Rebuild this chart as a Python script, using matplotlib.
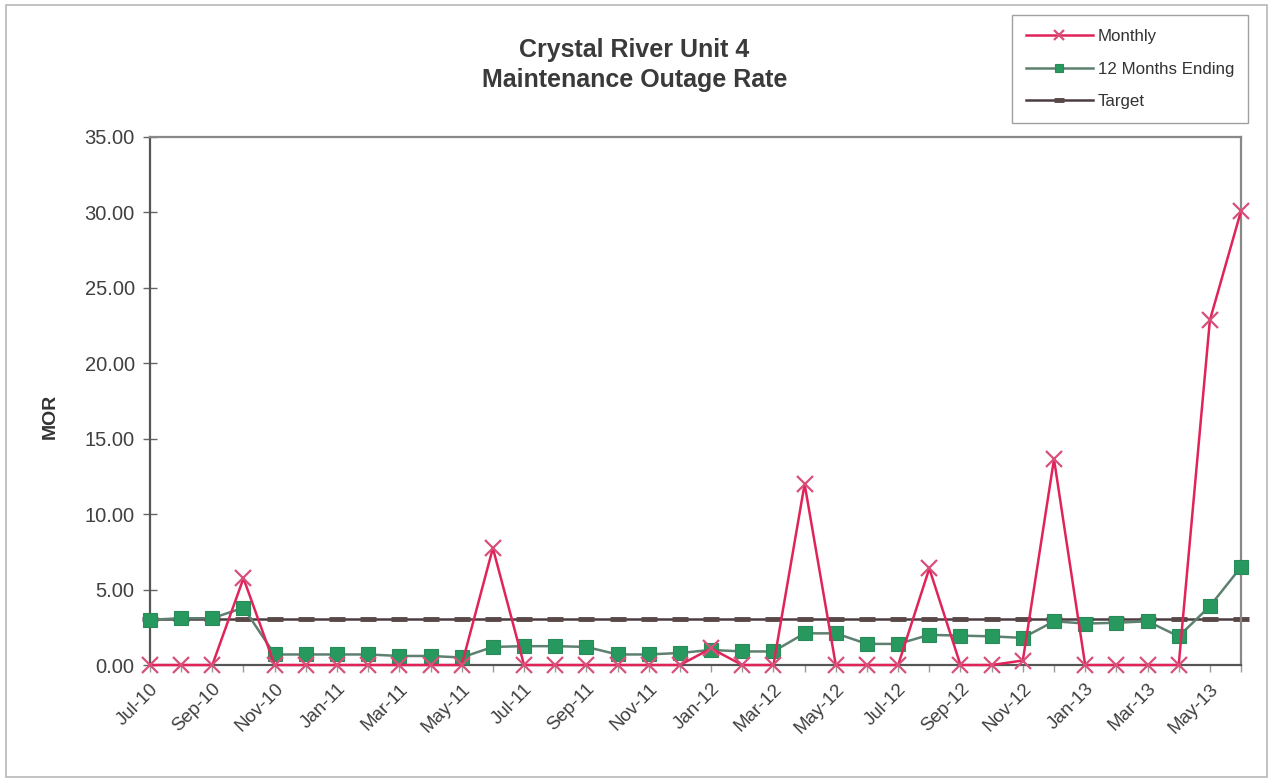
import matplotlib
matplotlib.use("Agg")
import matplotlib.pyplot as plt
from matplotlib.patches import Rectangle

plt.rcParams['font.family'] = ['Liberation Sans', 'DejaVu Sans']

months = ["Jul-10", "Aug-10", "Sep-10", "Oct-10", "Nov-10", "Dec-10",
          "Jan-11", "Feb-11", "Mar-11", "Apr-11", "May-11", "Jun-11",
          "Jul-11", "Aug-11", "Sep-11", "Oct-11", "Nov-11", "Dec-11",
          "Jan-12", "Feb-12", "Mar-12", "Apr-12", "May-12", "Jun-12",
          "Jul-12", "Aug-12", "Sep-12", "Oct-12", "Nov-12", "Dec-12",
          "Jan-13", "Feb-13", "Mar-13", "Apr-13", "May-13", "Jun-13"]

monthly = [0.0, 0.0, 0.0, 5.75, 0.0, 0.0,
           0.0, 0.0, 0.0, 0.0, 0.0, 7.75,
           0.0, 0.0, 0.0, 0.0, 0.0, 0.0,
           1.1, 0.0, 0.0, 12.0, 0.0, 0.0,
           0.0, 6.4, 0.0, 0.0, 0.3, 13.65,
           0.0, 0.0, 0.0, 0.0, 22.85, 30.1]

twelve_month = [3.0, 3.1, 3.1, 3.8, 0.7, 0.7,
                0.7, 0.7, 0.6, 0.6, 0.5, 1.2,
                1.25, 1.25, 1.2, 0.7, 0.7, 0.8,
                1.0, 0.9, 0.9, 2.1, 2.1, 1.4,
                1.4, 2.0, 1.95, 1.9, 1.8, 2.9,
                2.75, 2.8, 2.9, 1.9, 3.9, 6.5]

target = [3.08] * len(months)

x = list(range(len(months)))

fig = plt.figure(figsize=(12.73, 7.80), dpi=100)
fig.patches.append(Rectangle((0.005, 0.004), 0.99, 0.99, transform=fig.transFigure,
                             fill=False, edgecolor='#b8b8b8', linewidth=1.2))

ax = fig.add_axes([0.1178, 0.1474, 0.8571, 0.6770])

ax.plot(x, target, color='#4a3c40', linewidth=1.8, marker='_', markersize=12,
        markeredgewidth=3.5, markeredgecolor='#5a4848', label='Target', zorder=2,
        clip_on=False)
ax.plot(x, twelve_month, color='#5e8070', linewidth=1.8, marker='s', markersize=10,
        markerfacecolor='#27995f', markeredgecolor='#2b8a5a', markeredgewidth=0.8,
        label='12 Months Ending', zorder=3, clip_on=False)
ax.plot(x, monthly, color='#e0245a', linewidth=1.8, marker='x', markersize=11,
        markeredgewidth=1.6, markeredgecolor='#d8507a', label='Monthly', zorder=4,
        clip_on=False)

ax.set_xlim(0, len(months) - 1)
ax.set_ylim(0, 35)
yt = [0, 5, 10, 15, 20, 25, 30, 35]
ax.set_yticks(yt)
ax.set_yticklabels([f"{v:.2f}" for v in yt], fontsize=14.5, color='#404040')
ax.set_xticks(x)
ax.set_xticklabels([m if i % 2 == 0 else '' for i, m in enumerate(months)],
                   rotation=45, ha='right', rotation_mode='anchor',
                   fontsize=13.5, color='#404040')
ax.tick_params(axis='y', direction='inout', length=10, width=1, color='#666666', pad=6)
ax.tick_params(axis='x', direction='out', length=5, width=1, color='#999999', pad=6)

for side in ['left', 'bottom']:
    ax.spines[side].set_color('#555555')
    ax.spines[side].set_linewidth(1.6)
for side in ['top', 'right']:
    ax.spines[side].set_color('#888888')
    ax.spines[side].set_linewidth(1.6)

ax.set_ylabel('MOR', fontsize=14, fontweight='bold', color='#333333')
ax.yaxis.set_label_coords(-0.084, 0.47)

fig.text(0.4985, 0.936, 'Crystal River Unit 4', ha='center', va='center',
         fontsize=18, fontweight='bold', color='#3a3a3a')
fig.text(0.4985, 0.897, 'Maintenance Outage Rate', ha='center', va='center',
         fontsize=18, fontweight='bold', color='#3a3a3a')

handles, labels = ax.get_legend_handles_labels()
order = [2, 1, 0]
leg = fig.legend([handles[i] for i in order], [labels[i] for i in order],
                 loc='upper left', bbox_to_anchor=(0.795, 0.9805), frameon=True,
                 fancybox=False, edgecolor='#888888', fontsize=12.2,
                 handlelength=4.0, labelspacing=1.05, borderpad=0.8,
                 handletextpad=0.25, markerscale=0.6, labelcolor='#333333',
                 borderaxespad=0.0)
leg.get_frame().set_linewidth(1.0)

fig.savefig('out.png', dpi=100)
